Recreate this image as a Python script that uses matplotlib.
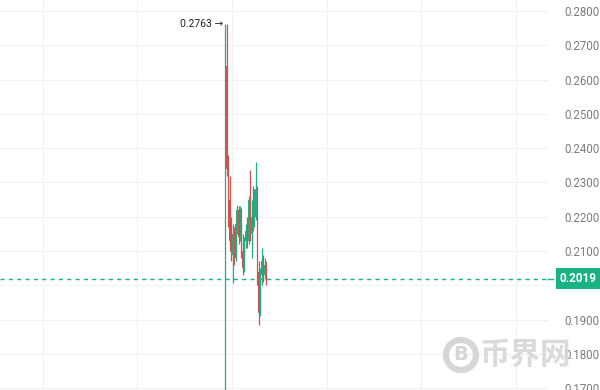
import matplotlib
matplotlib.use('Agg')
import matplotlib.pyplot as plt
from matplotlib.patches import Ellipse
import numpy as np

# candle data
opens = [0.1500, 0.2640, 0.2340, 0.2250, 0.2130, 0.2090, 0.2150, 0.2080, 0.2180, 0.2220,
         0.2140, 0.2210, 0.2100, 0.2050, 0.2130, 0.2160, 0.2130, 0.2250, 0.2150, 0.2200,
         0.2180, 0.2200, 0.2280, 0.2040, 0.1920, 0.2030, 0.2070, 0.2030, 0.2060]
highs = [0.2763, 0.2763, 0.2380, 0.2320, 0.2200, 0.2180, 0.2170, 0.2200, 0.2234, 0.2230,
         0.2230, 0.2225, 0.2150, 0.2140, 0.2180, 0.2200, 0.2260, 0.2336, 0.2250, 0.2290,
         0.2280, 0.2360, 0.2290, 0.2070, 0.2050, 0.2110, 0.2090, 0.2080, 0.2070]
lows = [0.1500, 0.2320, 0.2170, 0.2100, 0.2070, 0.2007, 0.2060, 0.2070, 0.2150, 0.2120,
        0.2130, 0.2080, 0.2030, 0.2040, 0.2110, 0.2110, 0.2120, 0.2130, 0.2080, 0.2160,
        0.2170, 0.2190, 0.2000, 0.1885, 0.1910, 0.2000, 0.2010, 0.2020, 0.2000]
closes = [0.2740, 0.2340, 0.2250, 0.2130, 0.2090, 0.2150, 0.2080, 0.2180, 0.2220, 0.2140,
          0.2210, 0.2100, 0.2050, 0.2130, 0.2160, 0.2130, 0.2250, 0.2150, 0.2200, 0.2180,
          0.2200, 0.2280, 0.2040, 0.1920, 0.2030, 0.2070, 0.2030, 0.2060, 0.2019]

max_price = 0.2763
last_price = 0.2019
y_ticks = [0.17, 0.18, 0.19, 0.20, 0.21, 0.22, 0.23, 0.24, 0.25, 0.26, 0.27, 0.28]
y_labels = ['0.1700', '0.1800', '0.1900', '', '0.2100', '0.2200', '0.2300', '0.2400',
            '0.2500', '0.2600', '0.2700', '0.2800']

green = '#19b383'
red = '#d4504f'
fonts = ['Roboto', 'DejaVu Sans']

fig = plt.figure(figsize=(6, 3.9), dpi=100)
ax = fig.add_axes([0, 0, 548 / 600, 1])

x = np.arange(len(opens))
for i in x:
    col = green if closes[i] >= opens[i] else red
    ax.vlines(i, lows[i], highs[i], color=col, linewidth=0.9)
    lo, hi = sorted([opens[i], closes[i]])
    ax.bar(i, hi - lo, bottom=lo, width=0.85, color=col, linewidth=0)

ax.set_xlim(-155.5, 222.4)
ax.set_ylim(0.1695, 0.2832)

ax.set_xticks([4.5 + 65.2 * k for k in range(-2, 4)])
ax.set_yticks(y_ticks)
ax.grid(True, color='#f0f3f3', linewidth=0.8)
ax.set_axisbelow(True)
ax.tick_params(axis='x', length=0, labelbottom=False)
ax.yaxis.tick_right()
ax.set_yticklabels(y_labels)
ax.tick_params(axis='y', length=0, pad=12, labelcolor='#7c7c7c', labelsize=8.3)
for lab in ax.get_yticklabels():
    lab.set_family(fonts)
for s in ax.spines.values():
    s.set_visible(False)

# last price line and label
ax.axhline(last_price, color=green, linestyle=(0, (3, 3)), linewidth=1)
ax.plot([1.0, 1.0 + 5 / 548], [last_price, last_price], color=green, linewidth=1,
        transform=ax.get_yaxis_transform(), clip_on=False)
ax.text(1.0 + 12 / 548, last_price, '%.4f' % last_price, transform=ax.get_yaxis_transform(),
        ha='left', va='center', color='white', fontsize=8.5, fontweight='bold', family=fonts,
        bbox=dict(boxstyle='square,pad=0.35', facecolor=green, edgecolor='none'), clip_on=False)

# max price marker
ax.annotate('%.4f →' % max_price, xy=(-0.5, max_price), xytext=(-1.5, max_price),
            ha='right', va='center', fontsize=7.5, family=fonts, color='#222222')

# watermark
fig.patches.append(Ellipse((461 / 600, 1 - 355 / 390), 30 / 600, 30 / 390,
                           transform=fig.transFigure, facecolor='none',
                           edgecolor='#d6d6d6', linewidth=4.5))
fig.text(461 / 600, 1 - 355 / 390, 'B', ha='center', va='center', fontsize=14,
         fontweight='bold', color='#d6d6d6', family='DejaVu Sans')
fig.text(480 / 600, 1 - 355 / 390, '币界网', ha='left', va='center', fontsize=22,
         fontweight='bold', color='#d6d6d6', alpha=0.9, family=['Noto Sans CJK SC', 'DejaVu Sans'])

fig.savefig('out.png', dpi=100, facecolor='white')
